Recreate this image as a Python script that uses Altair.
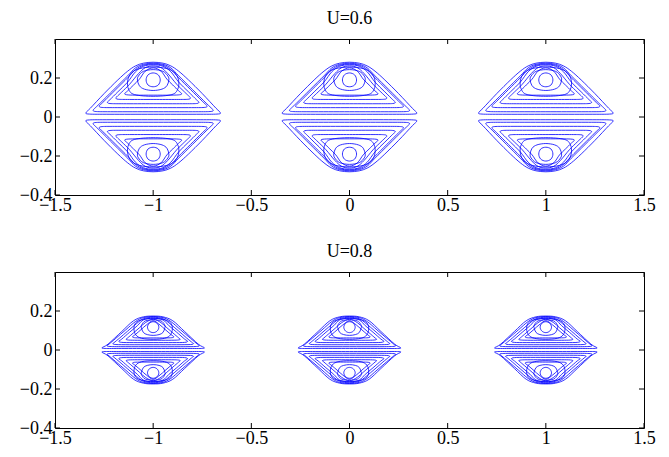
import altair as alt
import pandas as pd

# ---- data ----
CENTERS = [-1.0, 0.0, 1.0]
X_TICKS = [-1.5, -1.0, -0.5, 0.0, 0.5, 1.0, 1.5]
Y_TICKS = [-0.4, -0.2, 0.0, 0.2]
TITLES = ["U=0.6", "U=0.8"]

# Right half of each upper-lobe contour, from top (dx=0) down to bottom (dx=0).
# Rings around the lobe centre first, then the flat-bottomed "hat" contours.
U06_DX = [
    [0, 0.026, 0.036, 0.026, 0],
    [0, 0.05, 0.075, 0.08, 0.07, 0.045, 0],
    [0, 0.07, 0.112, 0.13, 0.125, 0.095, 0],
    [0, 0.04, 0.07, 0.10, 0.13, 0.145, 0.135, 0.09, 0],
    [0, 0.04, 0.075, 0.12, 0.16, 0.185, 0.19, 0.178, 0.12, 0],
    [0, 0.05, 0.09, 0.13, 0.18, 0.22, 0.23, 0.233, 0.22, 0.15, 0],
    [0, 0.05, 0.09, 0.13, 0.19, 0.25, 0.27, 0.275, 0.26, 0.18, 0],
    [0, 0.05, 0.09, 0.13, 0.20, 0.27, 0.30, 0.306, 0.29, 0.20, 0],
    [0, 0.05, 0.09, 0.13, 0.18, 0.25, 0.32, 0.342, 0.325, 0.22, 0],
]
U06_Y = [
    [0.226, 0.216, 0.19, 0.164, 0.155],
    [0.243, 0.234, 0.21, 0.19, 0.16, 0.143, 0.136],
    [0.256, 0.248, 0.225, 0.185, 0.142, 0.115, 0.106],
    [0.252, 0.235, 0.194, 0.164, 0.134, 0.12, 0.114, 0.112, 0.112],
    [0.262, 0.253, 0.222, 0.168, 0.128, 0.104, 0.097, 0.091, 0.09, 0.09],
    [0.268, 0.26, 0.232, 0.179, 0.129, 0.089, 0.08, 0.075, 0.069, 0.068, 0.068],
    [0.272, 0.265, 0.243, 0.201, 0.141, 0.081, 0.062, 0.055, 0.049, 0.048, 0.048],
    [0.276, 0.27, 0.252, 0.211, 0.141, 0.071, 0.042, 0.034, 0.028, 0.027, 0.027],
    [0.281, 0.276, 0.262, 0.235, 0.19, 0.12, 0.045, 0.022, 0.015, 0.014, 0.014],
]
U08_DX = [
    [0, 0.02, 0.029, 0.02, 0],
    [0, 0.04, 0.058, 0.06, 0.05, 0.03, 0],
    [0, 0.055, 0.088, 0.098, 0.088, 0.058, 0],
    [0, 0.035, 0.06, 0.09, 0.105, 0.095, 0.06, 0],
    [0, 0.04, 0.07, 0.10, 0.13, 0.138, 0.125, 0.08, 0],
    [0, 0.05, 0.08, 0.12, 0.16, 0.175, 0.16, 0.10, 0],
    [0, 0.05, 0.085, 0.13, 0.17, 0.20, 0.205, 0.19, 0.12, 0],
    [0, 0.05, 0.09, 0.14, 0.19, 0.225, 0.235, 0.22, 0.14, 0],
    [0, 0.05, 0.10, 0.16, 0.23, 0.26, 0.245, 0.16, 0],
]
U08_Y = [
    [0.145, 0.137, 0.117, 0.097, 0.089],
    [0.155, 0.149, 0.13, 0.115, 0.09, 0.079, 0.075],
    [0.162, 0.156, 0.14, 0.11, 0.077, 0.06, 0.055],
    [0.150, 0.128, 0.106, 0.08, 0.068, 0.063, 0.062, 0.062],
    [0.158, 0.14, 0.114, 0.088, 0.062, 0.055, 0.051, 0.05, 0.05],
    [0.164, 0.154, 0.125, 0.091, 0.056, 0.045, 0.039, 0.038, 0.038],
    [0.168, 0.16, 0.135, 0.097, 0.062, 0.037, 0.032, 0.028, 0.027, 0.027],
    [0.172, 0.166, 0.146, 0.103, 0.06, 0.03, 0.022, 0.018, 0.017, 0.017],
    [0.174, 0.17, 0.15, 0.095, 0.03, 0.012, 0.008, 0.008, 0.008],
]

W, H = 589, 156
FONT = "Liberation Serif"
FS = 18


def contour_table(dx_list, y_list):
    rows = []
    cid = 0
    for cx in CENTERS:
        for sign in (1, -1):
            for dxs, ys in zip(dx_list, y_list):
                right = list(zip(dxs, ys))
                left = [(-d, yy) for d, yy in reversed(right[1:-1])]
                pts = right + left
                for i, (d, yy) in enumerate(pts):
                    rows.append({"x": cx + d, "y": sign * yy, "id": cid, "ord": i})
                cid += 1
    return pd.DataFrame(rows)


xs = alt.Scale(domain=[-1.5, 1.5], nice=False, zero=False)
ys = alt.Scale(domain=[-0.4, 0.4], nice=False, zero=False)

XAXIS = alt.Axis(values=X_TICKS, format="~g", title=None, grid=False,
                 ticks=False, domain=False, labelFont=FONT, labelFontSize=FS,
                 labelColor="black", labelPadding=1, labelFlush=False)
YAXIS = alt.Axis(values=Y_TICKS, format="~g", title=None, grid=False,
                 ticks=False, domain=False, labelFont=FONT, labelFontSize=FS,
                 labelColor="black", labelPadding=3, minExtent=40, maxExtent=40)


def panel(dx_list, y_list, title):
    df = contour_table(dx_list, y_list)
    lines = alt.Chart(df).mark_line(
        interpolate="cardinal-closed", color="#0000ff", strokeWidth=0.8
    ).encode(
        x=alt.X("x:Q", scale=xs, axis=XAXIS),
        y=alt.Y("y:Q", scale=ys, axis=YAXIS),
        detail="id:N",
        order="ord:Q",
    )
    xt = pd.DataFrame({"x": X_TICKS})
    yt = pd.DataFrame({"y": Y_TICKS})
    tb = alt.Chart(xt).mark_rule(color="black", strokeWidth=1).encode(
        x=alt.X("x:Q", scale=xs, axis=XAXIS), y=alt.value(H - 5), y2=alt.value(H))
    tt = alt.Chart(xt).mark_rule(color="black", strokeWidth=1).encode(
        x=alt.X("x:Q", scale=xs, axis=XAXIS), y=alt.value(0), y2=alt.value(5))
    tl = alt.Chart(yt).mark_rule(color="black", strokeWidth=1).encode(
        y=alt.Y("y:Q", scale=ys, axis=YAXIS), x=alt.value(0), x2=alt.value(5))
    tr = alt.Chart(yt).mark_rule(color="black", strokeWidth=1).encode(
        y=alt.Y("y:Q", scale=ys, axis=YAXIS), x=alt.value(W - 5), x2=alt.value(W))
    return alt.layer(lines, tb, tt, tl, tr).properties(
        width=W, height=H,
        title=alt.TitleParams(title, font=FONT, fontSize=FS, fontWeight="normal",
                              color="black", offset=11, anchor="middle"),
    )


chart = alt.vconcat(
    panel(U06_DX, U06_Y, TITLES[0]),
    panel(U08_DX, U08_Y, TITLES[1]),
    spacing=27,
).properties(
    padding={"left": 14, "top": 9, "right": 8, "bottom": 0},
    background="white",
).configure_view(stroke="black", strokeWidth=1)

chart.save("out.html", embed_options={"renderer": "svg", "actions": False})
